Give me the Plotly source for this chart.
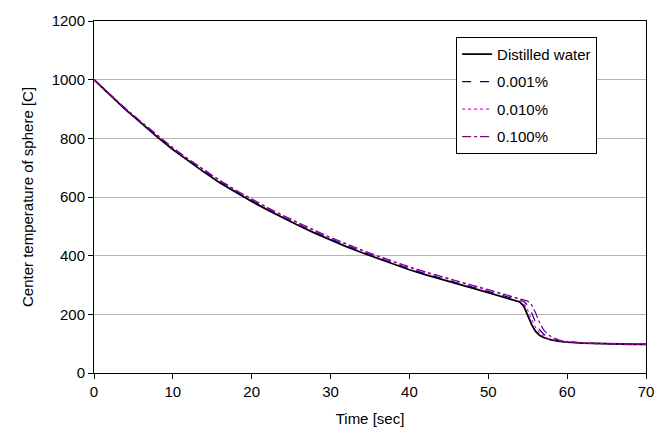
import plotly.graph_objects as go

time = [0, 2, 4, 6, 8, 10, 12, 14, 16, 18, 20, 22, 24, 26, 28, 30, 32, 34, 36, 38, 40,
        42, 44, 46, 48, 50, 52, 53, 54, 54.5, 55, 55.5, 56, 56.5, 57, 57.5, 58, 59, 60,
        62, 64, 66, 68, 70]

water = [1000, 948, 898, 852, 805, 762, 722, 684, 648, 615, 585, 556, 528, 502, 477, 453,
         431, 410, 390, 370, 352, 335, 319, 303, 289, 274, 259, 251, 242, 228, 195, 165,
         142, 129, 121, 116, 113, 108, 105, 102, 100, 99, 98, 98]

c0001 = [1000, 949, 900, 854, 808, 765, 725, 688, 652, 619, 589, 560, 532, 506, 481, 457,
         435, 414, 394, 374, 356, 339, 323, 307, 293, 278, 263, 256, 249, 244, 232, 205,
         172, 148, 133, 123, 117, 110, 106, 102, 100, 99, 98, 98]

c0010 = [1000, 950, 901, 855, 810, 767, 728, 691, 655, 622, 592, 563, 535, 509, 484, 460,
         438, 417, 397, 378, 360, 343, 327, 311, 297, 282, 267, 259, 252, 240, 215, 182,
         155, 137, 126, 119, 115, 109, 106, 102, 100, 99, 98, 98]

c0100 = [1000, 950, 902, 856, 811, 768, 729, 692, 656, 623, 593, 564, 537, 511, 486, 462,
         440, 419, 399, 380, 362, 345, 329, 313, 299, 284, 269, 262, 255, 250, 245, 232,
         205, 172, 148, 133, 123, 112, 107, 102, 100, 99, 98, 98]

names = ["Distilled water", "0.001%", "0.010%", "0.100%"]
colors = ["#000000", "#000080", "#FF00FF", "#800080"]
dashes = ["solid", "dash", "dot", "dashdot"]
widths = [1.8, 1.2, 1.2, 1.2]
series = [water, c0001, c0010, c0100]

fig = go.Figure()
for i, (nm, ys) in enumerate(zip(names, series)):
    fig.add_trace(go.Scatter(
        x=time, y=ys, mode="lines", name=nm, legendgroup=f"g{i}",
        line=dict(color=colors[i], dash=dashes[i], width=widths[i]),
    ))

fig.update_layout(
    width=671, height=437,
    margin=dict(l=94, r=25, t=19, b=64),
    paper_bgcolor="white", plot_bgcolor="white",
    font=dict(family="Liberation Sans, Arial, sans-serif", size=15, color="black"),
    showlegend=True,
    legend=dict(
        x=0.656, y=0.955, xanchor="left", yanchor="top",
        bgcolor="white", bordercolor="black", borderwidth=1,
        font=dict(size=15), tracegroupgap=5, itemwidth=30,
    ),
    xaxis=dict(
        range=[0, 70], tickvals=[0, 10, 20, 30, 40, 50, 60, 70],
        showgrid=False, zeroline=False,
        showline=True, linecolor="black", linewidth=1, mirror=True,
        ticks="outside", ticklen=5, tickcolor="black",
        title=dict(text="Time [sec]", font=dict(size=15), standoff=14),
        tickfont=dict(size=15),
    ),
    yaxis=dict(
        range=[0, 1200], tickvals=[0, 200, 400, 600, 800, 1000, 1200],
        showgrid=True, gridcolor="#B4B4B4", gridwidth=1, zeroline=False,
        showline=True, linecolor="black", linewidth=1, mirror=True,
        ticks="outside", ticklen=5, tickcolor="black",
        title=dict(text="Center temperature of sphere [C]", font=dict(size=15), standoff=14),
        tickfont=dict(size=15),
    ),
)

fig.write_html("out.html")
